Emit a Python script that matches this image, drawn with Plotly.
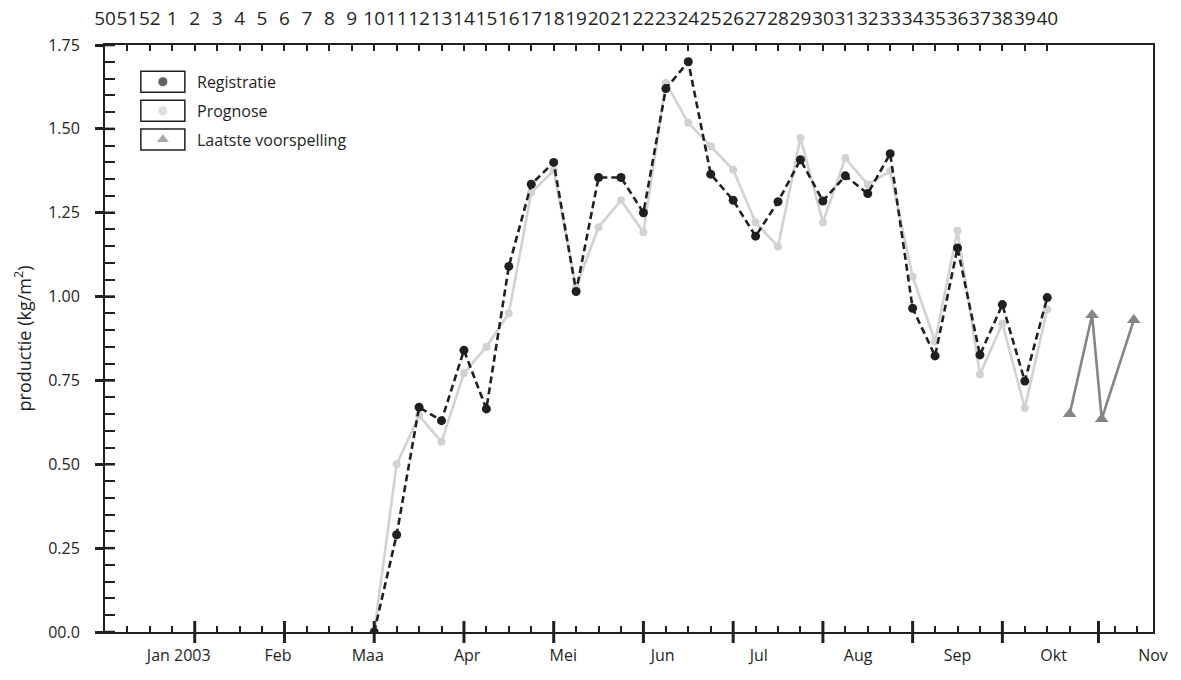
import datetime as dt
import plotly.graph_objects as go

# ---------------- data ----------------
weeks_2003 = [10, 11, 12, 13, 14, 15, 16, 17, 18, 19, 20, 21, 22, 23, 24, 25,
              26, 27, 28, 29, 30, 31, 32, 33, 34, 35, 36, 37, 38, 39, 40]
registratie = [0.00, 0.29, 0.67, 0.63, 0.84, 0.665, 1.09, 1.335, 1.40, 1.015,
               1.355, 1.355, 1.25, 1.62, 1.70, 1.365, 1.287, 1.18, 1.283, 1.408,
               1.285, 1.36, 1.307, 1.426, 0.965, 0.823, 1.145, 0.826, 0.976,
               0.748, 0.997]
prognose = [0.00, 0.50, 0.645, 0.567, 0.772, 0.85, 0.95, 1.31, 1.376, 1.027,
            1.207, 1.287, 1.192, 1.637, 1.518, 1.448, 1.378, 1.221, 1.149,
            1.473, 1.221, 1.413, 1.334, 1.374, 1.06, 0.866, 1.197, 0.768,
            0.92, 0.668, 0.962]
voorspelling_dates = ["2003-10-06", "2003-10-13", "2003-10-16", "2003-10-26"]
voorspelling = [0.65, 0.945, 0.635, 0.93]

week_labels = ["50", "51", "52"] + [str(w) for w in range(1, 41)]
month_dates = ["2003-01-01", "2003-02-01", "2003-03-01", "2003-04-01",
               "2003-05-01", "2003-06-01", "2003-07-01", "2003-08-01",
               "2003-09-01", "2003-10-01", "2003-11-01"]
month_labels = ["Jan 2003", "Feb", "Maa", "Apr", "Mei", "Jun", "Jul", "Aug",
                "Sep", "Okt", "Nov"]
period_ticks = ["2003-01-06", "2003-02-03", "2003-03-03", "2003-03-31",
                "2003-04-28", "2003-05-26", "2003-06-23", "2003-07-21",
                "2003-08-18", "2003-09-15", "2003-10-15"]
y_tickvals = [0, 0.25, 0.5, 0.75, 1.0, 1.25, 1.5, 1.75]
y_ticktext = ["00.0", "0.25", "0.50", "0.75", "1.00", "1.25", "1.50", "1.75"]
legend_names = ["Registratie", "Prognose", "Laatste voorspelling"]

# ---------------- helpers ----------------
DARK = "#231f20"
LIGHT = "#d2d2d2"
MID = "#858585"
FONT = "Open Sans"

def monday(year, week):
    return dt.date.fromisocalendar(year, week, 1)

reg_x = [monday(2003, w) for w in weeks_2003]
start = monday(2002, 50)
week_tick_dates = [start + dt.timedelta(days=7 * i) for i in range(len(week_labels))]
bottom_week_ticks = [start + dt.timedelta(days=7 * i) for i in range(1, 47) if i != 44]
x_range = [str(start), "2003-11-01"]

fig = go.Figure()

fig.add_trace(go.Scatter(
    x=reg_x, y=prognose, mode="lines+markers", name="Prognose",
    line=dict(color=LIGHT, width=2.6),
    marker=dict(color=LIGHT, size=8), showlegend=False))
fig.add_trace(go.Scatter(
    x=reg_x, y=registratie, mode="lines+markers", name="Registratie",
    line=dict(color=DARK, width=2.6, dash="7px,4px"),
    marker=dict(color=DARK, size=9), showlegend=False))
fig.add_trace(go.Scatter(
    x=voorspelling_dates, y=voorspelling, mode="lines+markers",
    name="Laatste voorspelling",
    line=dict(color=MID, width=2.6),
    marker=dict(color=MID, size=12, symbol="triangle-up"), showlegend=False))

# invisible helper traces so that the overlay axes (week numbers, months) get drawn
for ax in ("x2", "x3"):
    fig.add_trace(go.Scatter(
        x=reg_x, y=registratie, xaxis=ax, yaxis="y", mode="markers",
        marker=dict(opacity=0, size=1), showlegend=False, hoverinfo="skip"))

# legend markers on a hidden helper axis pair (paper-like 0..1 coordinates)
leg_x = 0.0552
leg_rows = [0.9375, 0.8879, 0.8390]
fig.add_trace(go.Scatter(
    x=[leg_x] * 3, y=leg_rows, mode="markers", xaxis="x4", yaxis="y2",
    marker=dict(color=[DARK, LIGHT, MID], size=[10, 10, 12],
                symbol=["circle", "circle", "triangle-up"]),
    showlegend=False, hoverinfo="skip", cliponaxis=False))

shapes = []
for d in period_ticks:
    shapes.append(dict(type="line", xref="x", yref="paper", x0=d, x1=d,
                       ysizemode="pixel", yanchor=0, y0=-11, y1=11,
                       line=dict(color=DARK, width=3)))
for v in y_tickvals:
    shapes.append(dict(type="line", xref="paper", yref="y", y0=v, y1=v,
                       xsizemode="pixel", xanchor=0, x0=0, x1=10,
                       line=dict(color=DARK, width=2.5)))
for r in leg_rows:
    shapes.append(dict(type="rect", xref="paper", yref="paper",
                       xsizemode="pixel", xanchor=leg_x, x0=-22, x1=22,
                       ysizemode="pixel", yanchor=r, y0=-10.5, y1=10.5,
                       line=dict(color=DARK, width=1.5),
                       fillcolor="rgba(0,0,0,0)"))

annotations = []
for name, r in zip(legend_names, leg_rows):
    annotations.append(dict(text=name, xref="paper", yref="paper", x=0.0859,
                            y=r, xanchor="left", yanchor="middle",
                            showarrow=False, font=dict(family=FONT, size=16,
                                                       color=DARK)))

fig.update_layout(
    width=1181, height=680,
    margin=dict(l=105, r=28, t=45, b=48, autoexpand=False),
    paper_bgcolor="white", plot_bgcolor="white",
    font=dict(family=FONT, size=16, color=DARK),
    shapes=shapes, annotations=annotations,
    xaxis=dict(type="date", range=x_range, showgrid=False, zeroline=False,
               showline=True, linecolor=DARK, linewidth=2, automargin=False,
               tickmode="array", tickvals=bottom_week_ticks,
               ticks="inside", ticklen=6, tickwidth=1.5, tickcolor=DARK,
               showticklabels=False),
    xaxis2=dict(type="date", range=x_range, overlaying="x", matches="x",
                side="top", anchor="y", showgrid=False, zeroline=False,
                showline=True, linecolor=DARK, linewidth=2, automargin=False,
                tickmode="array", tickvals=week_tick_dates,
                ticktext=week_labels, tickangle=0,
                ticks="inside", ticklen=6, tickwidth=1.5, tickcolor=DARK,
                ticklabelstandoff=10,
                tickfont=dict(family=FONT, size=19, color=DARK)),
    xaxis3=dict(type="date", range=x_range, overlaying="x", matches="x",
                side="bottom", anchor="y", showgrid=False, zeroline=False,
                showline=False, automargin=False, tickmode="array",
                tickvals=month_dates, ticktext=month_labels, tickangle=0,
                ticks="", ticklabelstandoff=12,
                tickfont=dict(family=FONT, size=16, color=DARK)),
    xaxis4=dict(overlaying="x", range=[0, 1], visible=False, anchor="y2",
                automargin=False),
    yaxis=dict(range=[0, 1.75], showgrid=False, zeroline=False,
               showline=True, mirror=True, linecolor=DARK, linewidth=2,
               automargin=False,
               tickmode="array", tickvals=y_tickvals, ticktext=y_ticktext,
               ticks="outside", ticklen=8, tickwidth=2.5, tickcolor=DARK,
               ticklabelstandoff=12,
               tickfont=dict(family=FONT, size=16, color=DARK),
               minor=dict(dtick=0.05, tick0=0, ticks="inside", ticklen=10,
                          tickwidth=1.5, tickcolor=DARK, showgrid=False),
               title=dict(text="productie (kg/m<sup>2</sup>)", standoff=12,
                          font=dict(family=FONT, size=18, color=DARK))),
    yaxis2=dict(overlaying="y", range=[0, 1], visible=False, anchor="x4",
                automargin=False),
)

fig.write_html("out.html")
